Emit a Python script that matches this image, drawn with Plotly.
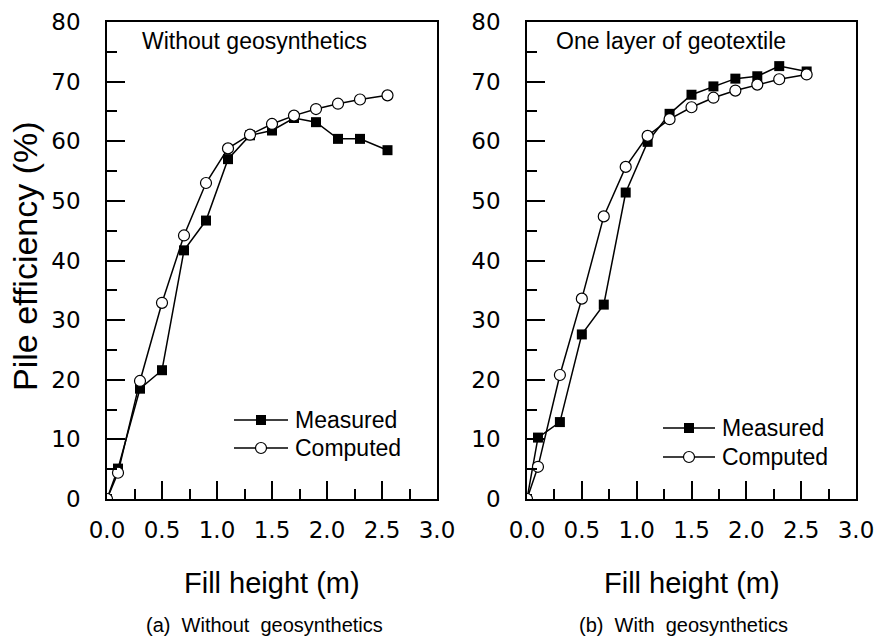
import plotly.graph_objects as go

# ---- data ----
fill_height = [0, 0.1, 0.3, 0.5, 0.7, 0.9, 1.1, 1.3, 1.5, 1.7, 1.9, 2.1, 2.3, 2.55]
meas_without = [0, 5.1, 18.5, 21.6, 41.7, 46.7, 57.0, 61.0, 61.8, 63.9, 63.2, 60.4, 60.4, 58.5]
comp_without = [0, 4.4, 19.8, 32.9, 44.2, 53.0, 58.8, 61.1, 62.9, 64.3, 65.4, 66.3, 67.0, 67.7]
meas_with = [0, 10.3, 12.9, 27.6, 32.6, 51.4, 59.9, 64.6, 67.8, 69.2, 70.5, 70.9, 72.6, 71.7]
comp_with = [0, 5.4, 20.8, 33.6, 47.4, 55.7, 60.9, 63.7, 65.7, 67.3, 68.5, 69.5, 70.4, 71.2]

series_names = ["Measured", "Computed"]
panel_titles = ["Without geosynthetics", "One layer of geotextile"]
captions = ["(a)\u00a0\u00a0Without\u00a0\u00a0geosynthetics", "(b)\u00a0\u00a0With\u00a0\u00a0geosynthetics"]
x_title = "Fill height (m)"
y_title = "Pile efficiency (%)"

FONT = "Liberation Sans, Arial, sans-serif"
TICKFONT = "DejaVu Sans, sans-serif"
W, H = 877, 639

fig = go.Figure()

def add_series(xa, ya, meas, comp):
    fig.add_trace(go.Scatter(
        x=fill_height, y=meas, mode="lines+markers", name=series_names[0],
        xaxis=xa, yaxis=ya, showlegend=False,
        line=dict(color="black", width=1.5),
        marker=dict(symbol="square", size=10, color="black"),
    ))
    fig.add_trace(go.Scatter(
        x=fill_height, y=comp, mode="lines+markers", name=series_names[1],
        xaxis=xa, yaxis=ya, showlegend=False,
        line=dict(color="black", width=1.5),
        marker=dict(symbol="circle", size=11, color="white",
                    line=dict(color="black", width=1.2)),
    ))

add_series("x", "y", meas_without, comp_without)
add_series("x2", "y2", meas_with, comp_with)

y_dom = [1 - 499 / H, 1 - 22 / H]
x_dom1 = [107 / W, 437 / W]
x_dom2 = [527 / W, 856 / W]

def xaxis(dom, anchor):
    return dict(
        domain=dom, anchor=anchor, range=[0, 3], dtick=0.5, tick0=0,
        tickformat=".1f", showgrid=False, zeroline=False, automargin=False,
        showline=True, linecolor="black", linewidth=1.5, mirror=True,
        ticks="inside", ticklen=18, tickwidth=1.5, tickcolor="black",
        ticklabelstandoff=10,
        tickfont=dict(family=TICKFONT, size=23, color="black"),
        minor=dict(dtick=0.25, ticks="inside", ticklen=10, tickwidth=1.5,
                   tickcolor="black", showgrid=False),
    )

def yaxis(anchor):
    return dict(
        domain=y_dom, anchor=anchor, range=[0, 80], dtick=10, tick0=0,
        showgrid=False, zeroline=False, automargin=False,
        showline=True, linecolor="black", linewidth=1.5, mirror=True,
        ticks="inside", ticklen=18, tickwidth=1.5, tickcolor="black",
        ticklabelstandoff=20,
        tickfont=dict(family=TICKFONT, size=23, color="black"),
        minor=dict(dtick=5, ticks="inside", ticklen=10, tickwidth=1.5,
                   tickcolor="black", showgrid=False),
    )

ann = []
shapes = []

def paper_ann(text, px, py, size, xanchor="center", angle=0):
    ann.append(dict(text=text, x=px / W, y=1 - py / H, xref="paper", yref="paper",
                    xanchor=xanchor, yanchor="middle", showarrow=False, textangle=angle,
                    font=dict(family=FONT, size=size, color="black")))

# panel titles inside the boxes
paper_ann(panel_titles[0], 140, 41, 23, "left")
paper_ann(panel_titles[1], 554, 41, 23, "left")
# x axis titles
paper_ann(x_title, 272, 583, 29)
paper_ann(x_title, 692, 583, 29)
# y axis title
paper_ann(y_title, 25, 256, 34, angle=-90)
# captions
paper_ann(captions[0], 264, 625, 20)
paper_ann(captions[1], 683, 625, 20)

# hand-built legend keys (line + marker + label)
def legend_key(x0, x1, ycen, symbol, label):
    shapes.append(dict(type="line", xref="paper", yref="paper",
                       x0=x0 / W, x1=x1 / W, y0=1 - ycen / H, y1=1 - ycen / H,
                       line=dict(color="black", width=1.5)))
    cx = (x0 + x1) / 2
    r = 5
    if symbol == "square":
        shapes.append(dict(type="rect", xref="paper", yref="paper",
                           x0=(cx - r) / W, x1=(cx + r) / W,
                           y0=1 - (ycen + r) / H, y1=1 - (ycen - r) / H,
                           fillcolor="black", line=dict(color="black", width=0)))
    else:
        r = 5.5
        shapes.append(dict(type="circle", xref="paper", yref="paper",
                           x0=(cx - r) / W, x1=(cx + r) / W,
                           y0=1 - (ycen + r) / H, y1=1 - (ycen - r) / H,
                           fillcolor="white", line=dict(color="black", width=1.2)))
    paper_ann(label, x1 + 5, ycen, 23, "left")

legend_key(234, 288, 420, "square", series_names[0])
legend_key(234, 288, 448, "circle", series_names[1])
legend_key(663, 715, 428, "square", series_names[0])
legend_key(663, 715, 457, "circle", series_names[1])

fig.update_layout(
    width=W, height=H, margin=dict(l=0, r=0, t=0, b=0, autoexpand=False),
    paper_bgcolor="white", plot_bgcolor="white",
    xaxis=xaxis(x_dom1, "y"), yaxis=yaxis("x"),
    xaxis2=xaxis(x_dom2, "y2"), yaxis2=yaxis("x2"),
    annotations=ann, shapes=shapes,
    showlegend=False,
)

fig.write_html("out.html")
